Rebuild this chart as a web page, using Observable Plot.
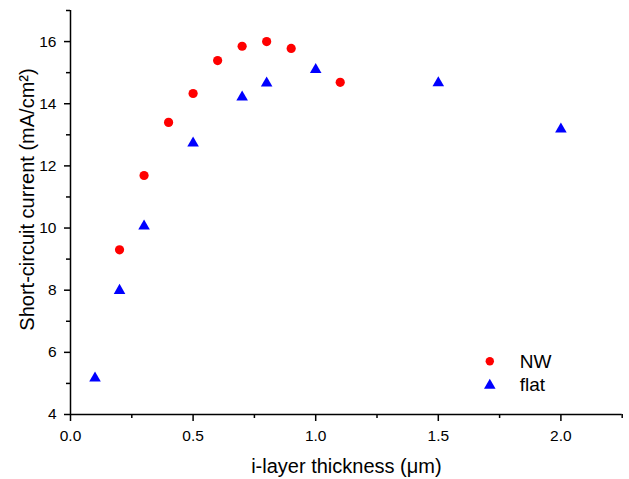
<!DOCTYPE html>
<html>
<head>
<meta charset="utf-8">
<script src="https://cdn.jsdelivr.net/npm/d3@7"></script>
<script src="https://cdn.jsdelivr.net/npm/@observablehq/plot@0.6"></script>
<style>
  html, body { margin: 0; padding: 0; background: #fff; }
  #chart svg { display: block; }
</style>
</head>
<body>
<div id="chart"></div>
<script>
// Data
const thicknessNW = [0.2, 0.3, 0.4, 0.5, 0.6, 0.7, 0.8, 0.9, 1.1];
const currentNW   = [9.30, 11.69, 13.40, 14.33, 15.39, 15.85, 16.00, 15.78, 14.69];
const thicknessFlat = [0.1, 0.2, 0.3, 0.5, 0.7, 0.8, 1.0, 1.5, 2.0];
const currentFlat   = [5.22, 8.04, 10.11, 12.78, 14.26, 14.71, 15.15, 14.72, 13.23];

const seriesNames = ["NW", "flat"];
const xDomain = [0, 2.25];
const yDomain = [4, 17];
const xTicks = [0, 0.5, 1.0, 1.5, 2.0];
const xMinorTicks = [0.25, 0.75, 1.25, 1.75, 2.25];
const yTicks = [4, 6, 8, 10, 12, 14, 16];
const yMinorTicks = [5, 7, 9, 11, 13, 15, 17];
const xLabel = "i-layer thickness (μm)";
const yLabel = "Short-circuit current (mA/cm²)";

const nw = thicknessNW.map((x, i) => ({x, y: currentNW[i]}));
const flat = thicknessFlat.map((x, i) => ({x, y: currentFlat[i]}));

const font = "'Liberation Sans', Arial, sans-serif";
const red = "#ff0000", blue = "#0000ff";

const plot = Plot.plot({
  width: 629,
  height: 479,
  marginLeft: 70,
  marginRight: 7.3,
  marginTop: 10,
  marginBottom: 65,
  style: {fontFamily: font, color: "#000", background: "#fff"},
  x: {domain: xDomain},
  y: {domain: yDomain},
  marks: [
    Plot.axisX(xTicks, {tickSize: 7, tickPadding: 8, fontSize: 15.5, strokeWidth: 1.5, tickFormat: d3.format(".1f"), label: null}),
    Plot.axisX(xMinorTicks, {tickSize: 4, strokeWidth: 1.5, text: null, label: null}),
    Plot.axisY(yTicks, {tickSize: 6, tickPadding: 8, fontSize: 15.5, strokeWidth: 1.5, tickFormat: d3.format("d"), label: null}),
    Plot.axisY(yMinorTicks, {tickSize: 4, strokeWidth: 1.5, text: null, label: null}),
    Plot.ruleX([xDomain[0]], {stroke: "#000", strokeWidth: 1.5}),
    Plot.ruleY([yDomain[0]], {stroke: "#000", strokeWidth: 1.5}),
    Plot.dot(nw, {x: "x", y: "y", r: 4.6, fill: red, stroke: "none"}),
    Plot.dot(flat, {x: "x", y: "y", r: 4.3, symbol: "triangle", fill: blue, stroke: "none", dy: 1.6}),
    // axis titles
    Plot.text([xLabel], {x: null, y: null, text: d => d, frameAnchor: "bottom", textAnchor: "middle", dy: 52.4, fontSize: 20, lineAnchor: "middle", fill: "#000"}),
    Plot.text([yLabel], {x: null, y: null, text: d => d, frameAnchor: "left", textAnchor: "middle", rotate: -90, dx: -42.5, dy: -13, fontSize: 20, lineAnchor: "middle", fill: "#000"}),
    // legend
    Plot.dot([seriesNames[0]], {x: null, y: null, frameAnchor: "bottom-right", dx: -132.4, dy: -53.3, r: 4.2, fill: red, stroke: "none"}),
    Plot.dot([seriesNames[1]], {x: null, y: null, frameAnchor: "bottom-right", dx: -132.4, dy: -29.1, r: 4.3, symbol: "triangle", fill: blue, stroke: "none"}),
    Plot.text([seriesNames[0]], {x: null, y: null, text: d => d, frameAnchor: "bottom-right", textAnchor: "start", dx: -102.4, dy: -52.5, fontSize: 19, lineAnchor: "middle", fill: "#000"}),
    Plot.text([seriesNames[1]], {x: null, y: null, text: d => d, frameAnchor: "bottom-right", textAnchor: "start", dx: -102.4, dy: -29.8, fontSize: 19, lineAnchor: "middle", fill: "#000"})
  ]
});
document.getElementById("chart").appendChild(plot);
</script>
</body>
</html>
